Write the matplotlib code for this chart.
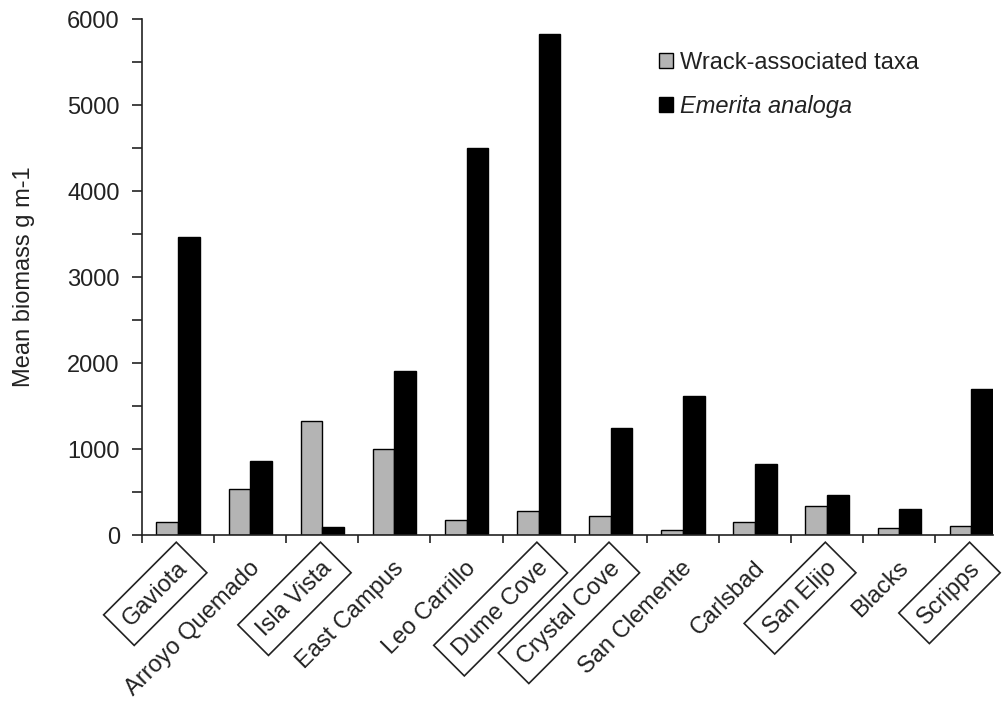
import matplotlib
matplotlib.use("Agg")
import matplotlib.pyplot as plt
import numpy as np
from matplotlib.transforms import ScaledTranslation
from matplotlib.ticker import MultipleLocator, FixedLocator

sites = ["Gaviota", "Arroyo Quemado", "Isla Vista", "East Campus", "Leo Carrillo",
         "Dume Cove", "Crystal Cove", "San Clemente", "Carlsbad", "San Elijo",
         "Blacks", "Scripps"]
boxed = [True, False, True, False, False, True, True, False, False, True, False, True]
wrack = [150, 540, 1330, 1000, 170, 280, 220, 60, 150, 340, 80, 110]
emerita = [3470, 860, 90, 1910, 4500, 5820, 1250, 1620, 820, 460, 300, 1700]

plt.rcParams['font.family'] = ['Liberation Sans', 'DejaVu Sans']
FS = 17

W, H = 1002, 704
fig = plt.figure(figsize=(W / 100, H / 100), dpi=100)
x0, x1, y0, y1 = 142, 993, 535, 19
ax = fig.add_axes([x0 / W, 1 - y0 / H, (x1 - x0) / W, (y0 - y1) / H])

x = np.arange(len(sites))
bw = 0.3
b1 = ax.bar(x - bw / 2, wrack, bw, color='#b4b4b4', edgecolor='black', linewidth=1.0,
            label='Wrack-associated taxa')
b2 = ax.bar(x + bw / 2, emerita, bw, color='black', edgecolor='black', linewidth=1.0,
            label='Emerita analoga')

ax.set_xlim(-0.5, len(sites) - 1 + bw)
ax.set_ylim(0, 6000)
for s in ['top', 'right']:
    ax.spines[s].set_visible(False)
for s in ['left', 'bottom']:
    ax.spines[s].set_color('#222222')
    ax.spines[s].set_linewidth(1.2)

ax.yaxis.set_major_locator(MultipleLocator(1000))
ax.yaxis.set_minor_locator(MultipleLocator(500))
ax.tick_params(axis='y', which='both', direction='out', length=7, width=1.2,
               color='#222222', labelsize=FS, pad=9, labelcolor='#222222')
ax.set_xticks([])
ax.xaxis.set_minor_locator(FixedLocator(np.arange(len(sites)) - 0.5))
ax.tick_params(axis='x', which='minor', direction='out', length=6, width=1.2, color='#222222')

ax.set_ylabel('Mean biomass g m-1', fontsize=FS, color='#222222', labelpad=23)

tr = ax.get_xaxis_transform()
for i, (name, bx) in enumerate(zip(sites, boxed)):
    off = ScaledTranslation(6 / 100, -30 / 100, fig.dpi_scale_trans)
    t = ax.text(i, 0, name, transform=tr + off, rotation=45, ha='right', va='center',
                rotation_mode='anchor', fontsize=FS, color='#222222')
    if bx:
        t.set_bbox(dict(boxstyle='square,pad=0.45', fc='white', ec='#222222', lw=1.2))

leg = fig.legend(handles=[b1, b2], labels=['Wrack-associated taxa', 'Emerita analoga'],
                 loc='upper left', bbox_to_anchor=(659 / W, 1 - 52 / H),
                 frameon=False, fontsize=FS, handlelength=0.6, handleheight=0.6,
                 handletextpad=0.3, labelspacing=0.9, borderpad=0, borderaxespad=0)
for txt in leg.get_texts():
    txt.set_color('#222222')
leg.get_texts()[1].set_style('italic')

fig.savefig('out.png', dpi=100)
